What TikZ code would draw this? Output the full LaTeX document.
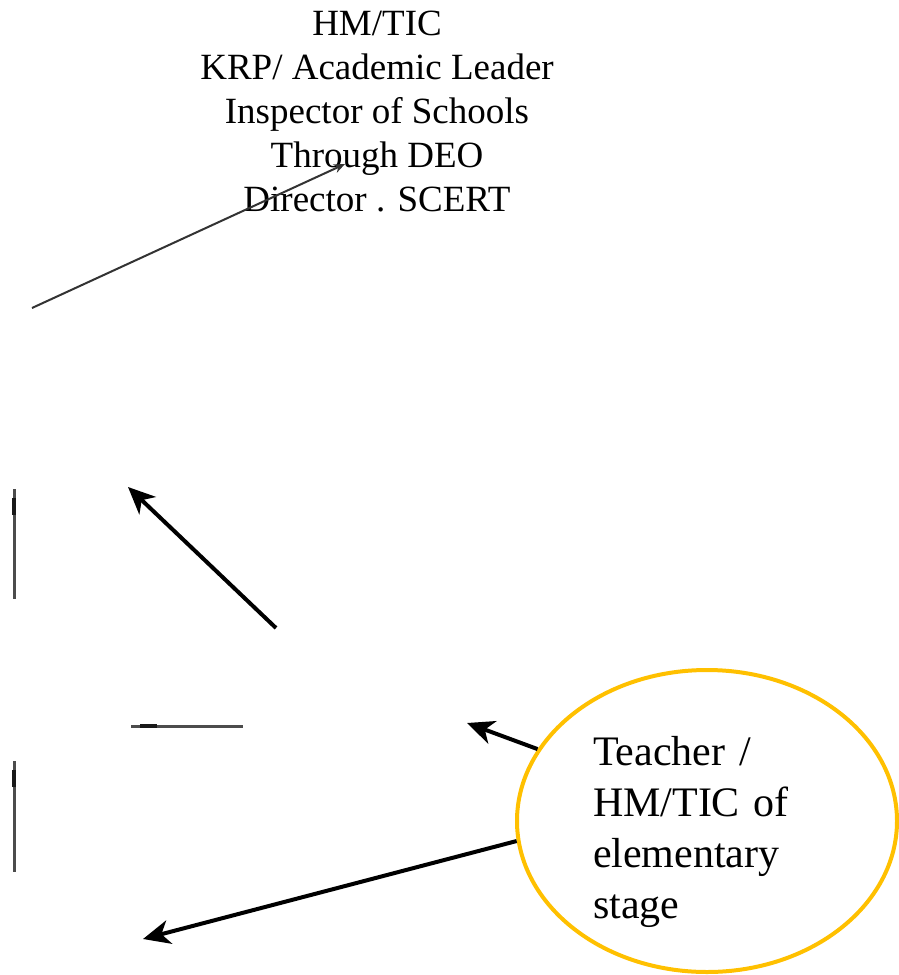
\documentclass[tikz,border=0pt]{standalone}
\usepackage{fontspec}
\setmainfont{Liberation Serif}
\usetikzlibrary{arrows.meta,shapes.geometric}
\definecolor{ringyellow}{RGB}{255,192,0}
\tikzset{%
  >={Stealth[width=24pt,length=27pt,inset=8pt]},
  % Specifications for style of nodes:
            base/.style = {inner sep=0pt, text=black},
  toptext/.style = {base, align=center, font=\fontsize{37}{44}\selectfont},
  ring/.style = {base, ellipse, draw=ringyellow, line width=4pt,
                 minimum width=380pt, minimum height=302pt,
                 text width=228pt, align=left, text height=28pt, text depth=140pt,
                 font=\fontsize{42}{51}\selectfont},
  % Specifications for style of lines:
  thinarrow/.style = {draw=black!80, line width=2pt, -{Stealth[width=9pt,length=11pt]}},
  boldarrow/.style = {draw=black, line width=4pt, ->},
  stub/.style = {draw=black!70, line width=3pt},
  stubmark/.style = {draw=black!90, line width=4.5pt},
}
\begin{document}
\begin{tikzpicture}[x=1pt, y=-1pt]
  \useasboundingbox (0,0) rectangle (899,975);

  % Specification of nodes (position, etc.)
  \node (onTop)     [toptext, anchor=base] at (377,211)
        {HM/TIC\\KRP/ Academic Leader\\Inspector of Schools\\Through DEO\\Director . SCERT};
  \node (onTeacher) [ring] at (707,821) {Teacher /\\HM/TIC of\\elementary\\stage};

  % free ends of the connectors
  \coordinate (thinFrom) at (32,308);
  \coordinate (thinTo)   at (345,164);
  \coordinate (boldFrom) at (276,628);
  \coordinate (boldTo)   at (128,487);
  \coordinate (midTo)    at (467,723);
  \coordinate (lowTo)    at (143,939);
  \coordinate (stubA1) at (14,489);  \coordinate (stubA2) at (14,599);
  \coordinate (markA1) at (14,498);  \coordinate (markA2) at (14,515);
  \coordinate (stubB1) at (131,726); \coordinate (stubB2) at (243,726);
  \coordinate (markB1) at (140,726); \coordinate (markB2) at (157,726);
  \coordinate (stubC1) at (14,761);  \coordinate (stubC2) at (14,872);
  \coordinate (markC1) at (14,770);  \coordinate (markC2) at (14,787);

  % Specification of lines between nodes specified above
  \draw[thinarrow] (thinFrom) -- (thinTo);
  \draw[boldarrow] (boldFrom) -- (boldTo);
  \draw[boldarrow] (onTeacher.157) -- (midTo);
  \draw[boldarrow] (onTeacher.186) -- (lowTo);

  \draw[stub] (stubA1) -- (stubA2);  \draw[stubmark] (markA1) -- (markA2);
  \draw[stub] (stubB1) -- (stubB2);  \draw[stubmark] (markB1) -- (markB2);
  \draw[stub] (stubC1) -- (stubC2);  \draw[stubmark] (markC1) -- (markC2);
\end{tikzpicture}
\end{document}
